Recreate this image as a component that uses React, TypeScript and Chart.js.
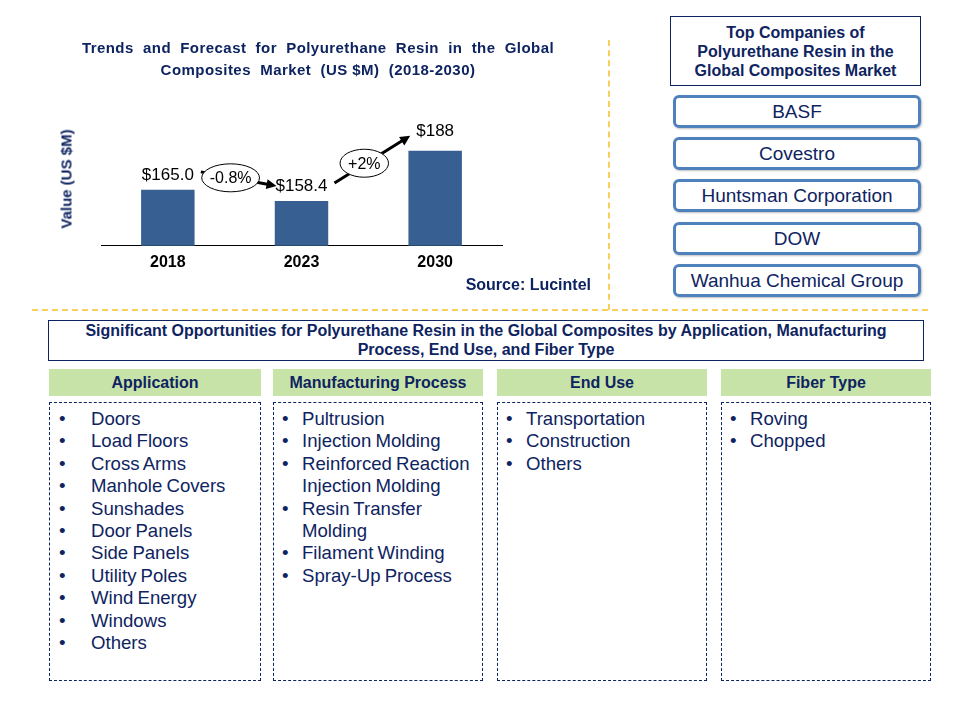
import React, { useEffect, useRef } from "react";
import { Chart, registerables } from "chart.js";

Chart.register(...registerables);

const years = ["2018", "2023", "2030"];
const marketValues = [165.0, 158.4, 188];
const valueLabels = ["$165.0", "$158.4", "$188"];
const growthLabels = ["-0.8%", "+2%"];

const chartTitle = [
  "Trends  and  Forecast  for  Polyurethane  Resin  in  the  Global",
  "Composites  Market  (US $M)  (2018-2030)",
];
const yAxisTitle = "Value (US $M)";
const sourceText = "Source: Lucintel";

const companiesTitle = ["Top Companies of", "Polyurethane Resin in the", "Global Composites Market"];
const companies = ["BASF", "Covestro", "Huntsman Corporation", "DOW", "Wanhua Chemical Group"];

const opportunitiesTitle = [
  "Significant Opportunities for Polyurethane Resin in the Global Composites by Application, Manufacturing",
  "Process, End Use, and Fiber Type",
];
const segmentHeaders = ["Application", "Manufacturing Process", "End Use", "Fiber Type"];
const applications = [
  "Doors", "Load Floors", "Cross Arms", "Manhole Covers", "Sunshades", "Door Panels",
  "Side Panels", "Utility  Poles", "Wind Energy", "Windows", "Others",
];
const processes = [
  "Pultrusion", "Injection Molding", "Reinforced Reaction Injection Molding",
  "Resin Transfer Molding", "Filament Winding", "Spray-Up Process",
];
const endUses = ["Transportation", "Construction", "Others"];
const fiberTypes = ["Roving", "Chopped"];

const NAVY = "#0E2461";
const BAR = "#385F91";
const FONT = "'Liberation Sans', Arial, sans-serif";

const annotationPlugin = {
  id: "annotations",
  afterDatasetsDraw(chart: any) {
    const ctx = chart.ctx;
    const bars = chart.getDatasetMeta(0).data;
    ctx.save();
    // value labels
    ctx.fillStyle = "#000";
    ctx.font = `17px ${FONT}`;
    ctx.textAlign = "center";
    ctx.textBaseline = "middle";
    bars.forEach((b: any, i: number) => {
      const off = i === bars.length - 1 ? 20 : 15;
      ctx.fillText(valueLabels[i], b.x, b.y - off);
    });
    // growth arrows
    for (let i = 0; i < bars.length - 1; i++) {
      const a = bars[i];
      const b = bars[i + 1];
      const sx = a.x + 33, sy = a.y - 18;
      const ex = b.x - 25, ey = b.y - 15;
      const ang = Math.atan2(ey - sy, ex - sx);
      const hl = 10;
      ctx.strokeStyle = "#000";
      ctx.fillStyle = "#000";
      ctx.lineWidth = 3;
      ctx.beginPath();
      ctx.moveTo(sx, sy);
      ctx.lineTo(ex - Math.cos(ang) * hl * 0.8, ey - Math.sin(ang) * hl * 0.8);
      ctx.stroke();
      ctx.beginPath();
      ctx.moveTo(ex, ey);
      ctx.lineTo(ex - hl * Math.cos(ang) + 5 * Math.sin(ang), ey - hl * Math.sin(ang) - 5 * Math.cos(ang));
      ctx.lineTo(ex - hl * Math.cos(ang) - 5 * Math.sin(ang), ey - hl * Math.sin(ang) + 5 * Math.cos(ang));
      ctx.closePath();
      ctx.fill();
      const t = 0.42;
      const cx = sx + (ex - sx) * t - 2;
      const cy = sy + (ey - sy) * t;
      ctx.font = `16px ${FONT}`;
      const tw = ctx.measureText(growthLabels[i]).width;
      ctx.beginPath();
      ctx.ellipse(cx, cy, tw / 2 + 8, 14, 0, 0, Math.PI * 2);
      ctx.fillStyle = "#fff";
      ctx.fill();
      ctx.lineWidth = 1;
      ctx.strokeStyle = "#000";
      ctx.stroke();
      ctx.fillStyle = "#000";
      ctx.fillText(growthLabels[i], cx, cy + 1);
    }
    ctx.restore();
  },
};

function BarChart() {
  const ref = useRef<HTMLCanvasElement>(null);
  useEffect(() => {
    if (!ref.current) return;
    const chart = new Chart(ref.current, {
      type: "bar",
      data: {
        labels: years,
        datasets: [
          {
            data: marketValues,
            backgroundColor: BAR,
            barPercentage: 0.4,
            categoryPercentage: 1,
          },
        ],
      },
      options: {
        animation: false,
        responsive: false,
        layout: { padding: { left: 101, right: 98, top: 100, bottom: 21 } },
        plugins: { legend: { display: false }, tooltip: { enabled: false }, title: { display: false } },
        scales: {
          x: {
            grid: { display: false, drawTicks: false },
            border: { display: true, color: "#000", width: 1 },
            ticks: { color: "#000", padding: 7, font: { family: FONT, size: 16, weight: "bold" } },
          },
          y: { display: false, min: 132, max: 218 },
        },
      },
      plugins: [annotationPlugin],
    });
    return () => chart.destroy();
  }, []);
  return (
    <canvas
      ref={ref}
      width={600}
      height={300}
      style={{ position: "absolute", left: 0, top: 0, width: 600, height: 300 }}
    />
  );
}

function BulletBox({ items, left, bulletX, textX, width }: any) {
  return (
    <div
      style={{
        position: "absolute",
        left,
        top: 402,
        width,
        height: 279,
        border: `1px dashed ${NAVY}`,
        boxSizing: "border-box",
      }}
    >
      {items.map((it: string, i: number) => (
        <div
          key={i}
          style={{
            position: "relative",
            paddingLeft: textX - left,
            width: width - (textX - left) - 4,
            fontSize: 18.6,
            lineHeight: "22.4px",
            color: NAVY,
            marginTop: i === 0 ? 5 : 0,
            wordSpacing: "-1px",
          }}
        >
          <span style={{ position: "absolute", left: bulletX - left - 4 }}>•</span>
          {it}
        </div>
      ))}
    </div>
  );
}

export default function App() {
  const cols = [
    { left: 49, width: 212, items: applications, bulletX: 62, textX: 90 },
    { left: 273, width: 210, items: processes, bulletX: 285, textX: 301 },
    { left: 497, width: 210, items: endUses, bulletX: 509, textX: 525 },
    { left: 721, width: 210, items: fiberTypes, bulletX: 733, textX: 749 },
  ];
  return (
    <div
      style={{
        position: "absolute",
        left: 0,
        top: 0,
        width: 960,
        height: 720,
        background: "#fff",
        fontFamily: FONT,
        overflow: "hidden",
      }}
    >
      <BarChart />
      <div
        style={{
          position: "absolute",
          left: 40,
          top: 37,
          width: 556,
          textAlign: "center",
          fontWeight: "bold",
          fontSize: 15,
          letterSpacing: "0.45px",
          lineHeight: "22px",
          color: NAVY,
          whiteSpace: "pre",
        }}
      >
        {chartTitle.map((l, i) => (
          <div key={i}>{l}</div>
        ))}
      </div>
      <div
        style={{
          position: "absolute",
          left: 66,
          top: 179,
          transform: "translate(-50%, -50%) rotate(-90deg)",
          whiteSpace: "nowrap",
          fontWeight: "bold",
          fontSize: 15,
          color: NAVY,
        }}
      >
        {yAxisTitle}
      </div>
      <div
        style={{
          position: "absolute",
          right: 960 - 591,
          top: 276,
          fontWeight: "bold",
          fontSize: 16,
          color: NAVY,
          whiteSpace: "nowrap",
        }}
      >
        {sourceText}
      </div>
      {/* separators */}
      <div style={{ position: "absolute", left: 608, top: 40, height: 270, borderLeft: "2px dashed #F8CF5C" }} />
      <div style={{ position: "absolute", left: 32, top: 309, width: 896, borderTop: "2px dashed #F8CF5C" }} />

      {/* top companies */}
      <div
        style={{
          position: "absolute",
          left: 670,
          top: 16,
          width: 251,
          height: 70,
          border: `1px solid ${NAVY}`,
          boxSizing: "border-box",
          textAlign: "center",
          fontWeight: "bold",
          fontSize: 16,
          lineHeight: "19px",
          color: NAVY,
          paddingTop: 6,
          whiteSpace: "nowrap",
        }}
      >
        {companiesTitle.map((l, i) => (
          <div key={i}>{l}</div>
        ))}
      </div>
      {companies.map((c, i) => (
        <div
          key={c}
          style={{
            position: "absolute",
            left: 673,
            top: 95 + i * 42.2,
            width: 248,
            height: 33,
            border: "3px solid #4F81BD",
            borderRadius: 6,
            boxSizing: "border-box",
            textAlign: "center",
            fontSize: 19,
            lineHeight: "27px",
            color: NAVY,
            boxShadow: "1px 1px 2px rgba(0,0,0,0.25)",
            whiteSpace: "nowrap",
          }}
        >
          {c}
        </div>
      ))}

      {/* opportunities */}
      <div
        style={{
          position: "absolute",
          left: 48,
          top: 320,
          width: 876,
          height: 41,
          border: `1px solid ${NAVY}`,
          boxSizing: "border-box",
          textAlign: "center",
          fontWeight: "bold",
          fontSize: 16,
          lineHeight: "19px",
          color: NAVY,
          whiteSpace: "nowrap",
        }}
      >
        {opportunitiesTitle.map((l, i) => (
          <div key={i}>{l}</div>
        ))}
      </div>
      {cols.map((c, i) => (
        <div
          key={i}
          style={{
            position: "absolute",
            left: c.left,
            top: 369,
            width: c.width,
            height: 27,
            background: "#C8E3A8",
            textAlign: "center",
            fontSize: 16,
            fontWeight: "bold",
            lineHeight: "27px",
            color: NAVY,
          }}
        >
          {segmentHeaders[i]}
        </div>
      ))}
      {cols.map((c, i) => (
        <BulletBox key={i} items={c.items} left={c.left} bulletX={c.bulletX} textX={c.textX} width={c.width} />
      ))}
    </div>
  );
}
